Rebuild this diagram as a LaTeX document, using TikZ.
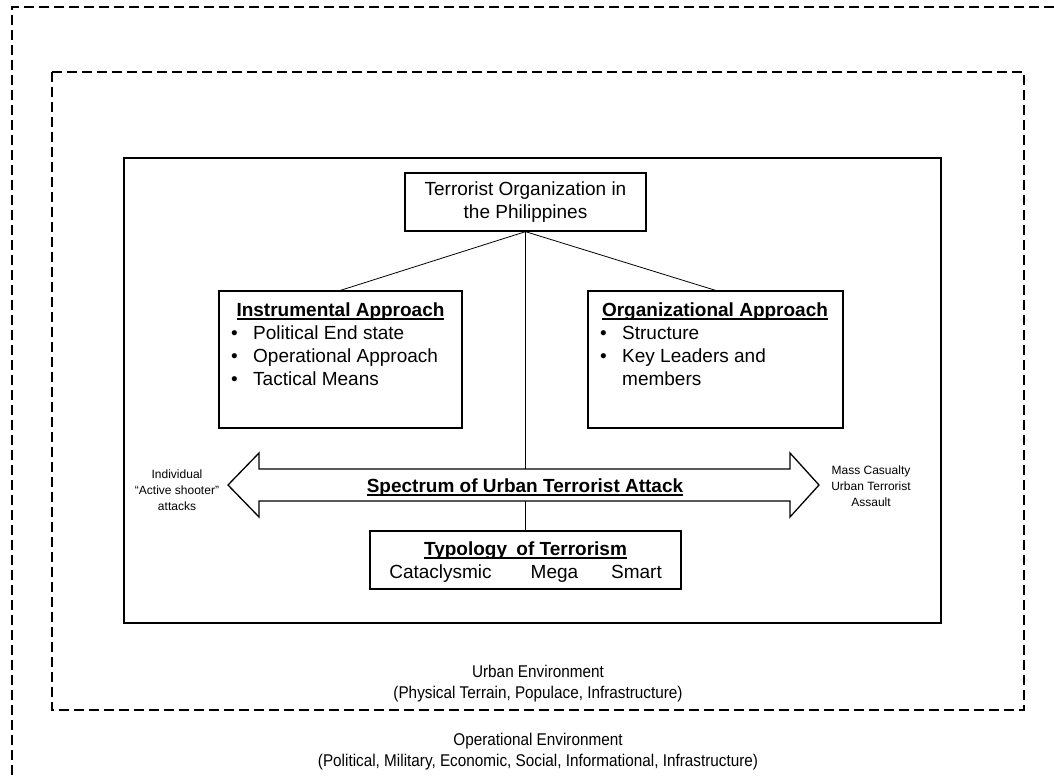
\documentclass[tikz,border=0pt]{standalone}
\usepackage{fontspec}
\setmainfont{Liberation Sans}
\newfontfamily\envfont[FakeStretch=0.9]{Liberation Sans}
\usetikzlibrary{positioning}

% bold heading with a thick underline
\newcommand{\headul}[1]{\setbox0=\hbox{\bfseries #1}\rlap{\rule[-3.6pt]{\wd0}{1.6pt}}\box0}

\tikzset{
  envline/.style={draw=black, line width=1.3pt, dash pattern=on 10pt off 5pt},
  framebox/.style={draw=black, line width=1.6pt},
  unitbox/.style={draw=black, line width=1.3pt, rectangle, inner sep=0pt},
  link/.style={draw=black, line width=0.8pt},
  bigtxt/.style={font=\fontsize{19}{23}\selectfont, inner sep=0pt},
  smalltxt/.style={font=\fontsize{12}{16}\selectfont, align=center, inner sep=0pt},
  envtxt/.style={font=\envfont\fontsize{17}{21}\selectfont, align=center, inner sep=0pt},
}

\begin{document}
\begin{tikzpicture}[x=1pt,y=-1pt]
  \useasboundingbox (0,0) rectangle (1054,776);
  % environments
  \draw[envline] (1054,7) -- (12,7) -- (12,776);
  \draw[envline] (52,72) rectangle (1024,710);
  \draw[framebox] (124,158) rectangle (941,623);

  % boxes
  \node[unitbox, bigtxt, align=center, minimum width=241pt, minimum height=58pt] (org) at (525.5,202) {Terrorist Organization in\\the Philippines};
  \node[unitbox, minimum width=243pt, minimum height=137pt] (instr) at (340.5,359.5) {};
  \node[unitbox, minimum width=255pt, minimum height=137pt] (orga) at (715.5,359.5) {};
  \node[unitbox, minimum width=311pt, minimum height=58pt] (typo) at (525.5,560) {};

  % headings
  \node[bigtxt, anchor=base] (instr-head) at (340.5,316) {\headul{Instrumental Approach}};
  \node[bigtxt, anchor=base] (orga-head) at (715,316) {\headul{Organizational Approach}};
  \node[bigtxt, anchor=base] (typo-head) at (525.5,555) {\headul{Typology\hspace{4pt} of Terrorism}};

  % bullet lists
  \foreach \t [count=\i] in {Political End state, Operational Approach, Tactical Means}
    \node[bigtxt, anchor=base west] (instr-\i) at (231,{316+\i*23}) {\makebox[22pt][l]{•}\t};
  \foreach \t [count=\i] in {Structure, Key Leaders and}
    \node[bigtxt, anchor=base west] (orga-\i) at (600,{316+\i*23}) {\makebox[22pt][l]{•}\t};
  \node[bigtxt, anchor=base west] (orga-3) at (622,385) {members};

  \foreach \t/\x [count=\i] in {Cataclysmic/440.5, Mega/554.5, Smart/636.5}
    \node[bigtxt, anchor=base] (typo-\i) at (\x,578) {\t};

  % connectors
  \draw[link] (org.south) -- (instr.north);
  \draw[link] (org.south) -- (orga.north);
  \draw[link] (org.south) -- (typo.north);

  % spectrum arrow
  \filldraw[fill=white, line width=1.3pt] (228,485) -- (259,453) -- (259,469) -- (790,469) -- (790,453) -- (819,485)
    -- (790,517) -- (790,501) -- (259,501) -- (259,517) -- cycle;
  \node[bigtxt, anchor=base] (spectrum) at (525,492) {\headul{Spectrum of Urban Terrorist Attack}};

  \node[smalltxt] (individual) at (177,490) {Individual\\“Active shooter”\\attacks};
  \node[smalltxt] (masscas) at (871,486) {Mass Casualty\\Urban Terrorist\\Assault};

  % environment labels
  \node[envtxt] (urban) at (538,684) {Urban Environment\\(Physical Terrain, Populace, Infrastructure)};
  \node[envtxt] (operational) at (538,752) {Operational Environment\\(Political, Military, Economic, Social, Informational, Infrastructure)};
\end{tikzpicture}
\end{document}
